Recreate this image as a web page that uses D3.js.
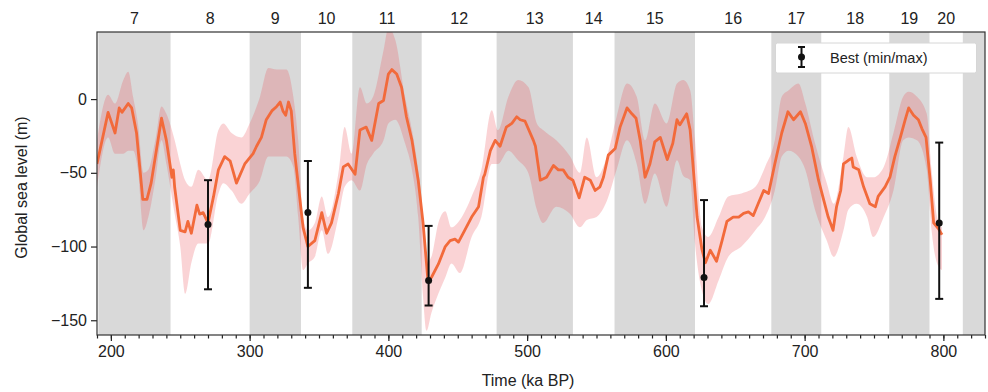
<!DOCTYPE html>
<html><head><meta charset="utf-8">
<script src="https://cdn.jsdelivr.net/npm/d3@7"></script>
<style>
body{margin:0;background:#fff;}
svg{display:block;font-family:"Liberation Sans",Arial,Helvetica,sans-serif;}
</style>
</head><body><svg id="c" width="988" height="392"></svg>
<script>
// ---- data ----
const lineKa = [190,198,203,206,208,212.5,215,218.5,223,226,229,236.5,240,244,245,246,250,253.5,255.5,258,262,264,266.5,270,274,277.5,282,286,290.5,296.5,302.5,305,308.5,312,316,319.5,322,324,326,328,330,332.5,336,338.5,342,347,352,355.5,359,364,367.5,371,376,379.5,384,388,393,396.5,400,402.5,406,409.5,413,417,421.5,425,428.5,431,436,441,444.5,448,450.5,455,460,465,468.5,469.5,473.5,477,480.5,485,489,492.5,495,498.5,504.5,506,509.5,514,519,522.5,526,529.5,533,537.5,541.5,545.5,549,552.5,555,558.5,563.5,567,572,575.5,578.5,581.5,585,588.5,592,596,598,601,605,608,610,615,617.5,620,622.5,626,628.5,632,636.5,640.5,644,648.5,652.5,656,659.5,663,666.5,670.5,674,678.5,683.5,688,692,697,700.5,705,710,715,717,720.5,723,726,728,731.5,734,735,739,742.5,747,751,753,758,761.5,765,769,772.5,775,778.5,782,784.5,787.5,790.5,793,796.5,799];
const lineVal = [-44,-9,-23,-6,-9,-3,-6,-23,-68,-68,-57,-13,-28,-53,-48,-60,-89,-90,-83,-91,-72,-78,-77,-84,-66,-48,-39,-42,-57,-44,-37,-32,-26,-14,-8,-5,-2,-8,-11,-2,-8,-37,-66,-87,-100,-96,-77,-91,-84,-64,-46,-44,-51,-21,-19,-28,-3,-1,17,20,17,8,-12,-28,-55,-84,-123,-121,-112,-100,-96,-95,-97,-89,-80,-73,-53,-51,-35,-28,-32,-19,-16.5,-12,-14,-15,-28,-32,-55,-53,-45,-48,-48,-53,-55,-67,-53,-55,-62,-59.5,-53,-38,-33.5,-19,-6,-10,-13,-28,-53,-44,-29,-26,-32,-41,-30,-14,-17.5,-10,-21,-50,-80,-102,-111,-102.5,-110,-96,-83,-80,-80,-77.5,-76.5,-79,-71,-62,-64,-44,-23,-8.6,-14,-8.6,-16.5,-32,-55,-73,-80,-89,-73,-62,-44,-41.5,-40,-46,-48,-59.5,-71,-73,-66,-59.5,-53,-39,-26,-14,-6,-11,-14,-20,-26,-55,-84,-88,-92];

const bandKa = [190,198,203,209,212.5,216,219.5,223.5,227,232,236.5,240,246,250,253.5,258,263,270,277.5,281,287,294,300,307.5,313.5,319.5,326.5,331.5,335,338.5,342,347,352,356.5,364,368.5,373.5,379.5,384.5,389,396.5,400,405,412,417,421.5,425,427.5,431,436,441,445.5,451.5,460,467,474.5,479,486.5,493.5,501,507,511.5,521,531,538,543,550,557.5,564.5,572,579,585,592,600.5,608,612.5,617.5,621,626,630.5,638,645,654.5,664.5,671.5,678.5,683.5,688.5,695.5,700.5,707.5,716,721,728,731.5,737.5,745,749.5,757,764,771,775,781,788,791.5,795.5,799];
const bandHi = [-28,3,-3,13,18.5,1.6,-16.5,-50,-48,-28,-5,-10,-28,-44,-55,-59.5,-48,-55,-21,-16.5,-23,-26,-16.5,1.6,21,20,20,1.6,-28,-80,-89,-84,-66,-80,-50,-19,-37,8,-3,1.6,33,48,40,1.6,-21,-48,-80,-111,-107,-84,-76,-87,-82,-66,-48,-7.5,-21,1.6,13,8,-16.5,-21,-28,-39,-50,-26,-53,-39,-12,10.6,1.6,-28,-3,-16.5,10.6,13,6,-28,-87,-93.5,-80,-66,-64,-59.5,-46,-28,1.6,6,10.6,-3,-30,-57,-71,-39,-19,-39,-53,-53,-46,-23,1.6,5,1.6,-10,-48,-80,-87];
const bandLo = [-60,-26,-37,-37,-35,-35,-48,-89,-80,-55,-28,-44,-78,-100,-132,-111,-98,-98,-64,-57,-62,-71,-64,-55,-39,-39,-39,-46,-80,-116,-111.5,-107,-89,-105,-80,-59.5,-55,-62,-44,-37,-28,-16.5,-14,-30,-48,-80,-134,-157,-145,-132,-121,-111.5,-118,-93.5,-80,-44,-44,-35,-41.5,-50.5,-75,-84,-73,-78,-87,-82,-80,-69,-48,-28,-44,-71,-50.5,-73,-41.5,-52,-55,-98,-130,-139,-123,-107,-100,-89,-80,-62,-39,-35,-39,-48,-75,-96,-107,-89,-75,-71,-80,-93.5,-80,-62,-28,-26,-28,-48,-89,-111.5,-116];

const errKa   = [270, 342, 429, 627.5, 797];
const errBest = [-85, -77, -123, -121, -84];
const errMin  = [-129, -128, -140, -140.5, -135.5];
const errMax  = [-55, -42, -86, -68.5, -29.5];

const stageBounds = [191,243,300,337,374,424,478,533,563,621,676,712,761,790,814,866];
const stageNums   = [7,8,9,10,11,12,13,14,15,16,17,18,19,20,21];
const stageLabels = ["7","8","9","10","11","12","13","14","15","16","17","18","19","20"];

const xDomain = [190, 830];
const yDomain = [-160, 45.5];
const xTicks = [200,300,400,500,600,700,800];
const yTicks = [-150,-100,-50,0];

// ---- layout ----
const W = 988, H = 392;
const m = {l:97, r:3, t:32, b:57};
const FS = 16;
const svg = d3.select("#c");
const x = d3.scaleLinear().domain(xDomain).range([m.l, W - m.r]);
const y = d3.scaleLinear().domain(yDomain).range([H - m.b, m.t]);

svg.append("defs").append("clipPath").attr("id","clip")
  .append("rect").attr("x", m.l).attr("y", m.t)
  .attr("width", W - m.l - m.r).attr("height", H - m.t - m.b);

const plot = svg.append("g").attr("clip-path","url(#clip)");

// stage shading (odd stages)
const stages = stageNums.map((n,i)=>({n, a:stageBounds[i], b:stageBounds[i+1]}));
plot.selectAll("rect.stage").data(stages.filter(d=>d.n%2===1)).join("rect")
  .attr("class","stage")
  .attr("x", d=>x(Math.max(d.a,xDomain[0])))
  .attr("width", d=>x(Math.min(d.b,xDomain[1])) - x(Math.max(d.a,xDomain[0])))
  .attr("y", m.t).attr("height", H - m.t - m.b)
  .attr("fill","#d9d9d9");

// uncertainty band
const band = bandKa.map((k,i)=>({k, hi:bandHi[i], lo:bandLo[i]}));
plot.append("path").datum(band)
  .attr("d", d3.area().x(d=>x(d.k)).y0(d=>y(d.lo)).y1(d=>y(d.hi)).curve(d3.curveMonotoneX))
  .attr("fill","rgba(236,70,80,0.24)");

// line
const line = lineKa.map((k,i)=>({k, v:lineVal[i]}));
plot.append("path").datum(line)
  .attr("d", d3.line().x(d=>x(d.k)).y(d=>y(d.v)))
  .attr("fill","none").attr("stroke","#f26a3b").attr("stroke-width",2.8)
  .attr("stroke-linejoin","round");

// error bars
const errs = errKa.map((k,i)=>({k, best:errBest[i], mn:errMin[i], mx:errMax[i]}));
const eg = plot.selectAll("g.err").data(errs).join("g").attr("class","err");
eg.append("line").attr("x1",d=>x(d.k)).attr("x2",d=>x(d.k))
  .attr("y1",d=>y(d.mn)).attr("y2",d=>y(d.mx)).attr("stroke","#111").attr("stroke-width",2);
eg.append("line").attr("x1",d=>x(d.k)-4).attr("x2",d=>x(d.k)+4)
  .attr("y1",d=>y(d.mn)).attr("y2",d=>y(d.mn)).attr("stroke","#111").attr("stroke-width",2);
eg.append("line").attr("x1",d=>x(d.k)-4).attr("x2",d=>x(d.k)+4)
  .attr("y1",d=>y(d.mx)).attr("y2",d=>y(d.mx)).attr("stroke","#111").attr("stroke-width",2);
eg.append("circle").attr("cx",d=>x(d.k)).attr("cy",d=>y(d.best)).attr("r",3.5).attr("fill","#111");

// axes
const xAxis = d3.axisBottom(x).tickValues(xTicks).tickSize(6).tickPadding(5).tickFormat(d3.format("d"));
const xMinor = d3.axisBottom(x).tickValues(d3.range(190, 831, 10)).tickSize(3.5).tickFormat("");
const yAxis = d3.axisLeft(y).tickValues(yTicks).tickSize(6).tickPadding(4).tickFormat(d=>d<0?"\u2212"+Math.abs(d):d);

const gxm = svg.append("g").attr("transform",`translate(0,${H-m.b})`).call(xMinor);
const gx = svg.append("g").attr("transform",`translate(0,${H-m.b})`).call(xAxis);
const gy = svg.append("g").attr("transform",`translate(${m.l},0)`).call(yAxis);
[gx,gxm,gy].forEach(g=>{
  g.select(".domain").remove();
  g.selectAll("line").attr("stroke","#222").attr("stroke-width",1.2);
  g.selectAll("text").attr("font-size",FS).attr("fill","#222")
    .attr("font-family",'"Liberation Sans",Arial,sans-serif');
});

// frame
svg.append("rect").attr("x",m.l).attr("y",m.t)
  .attr("width",W-m.l-m.r).attr("height",H-m.t-m.b)
  .attr("fill","none").attr("stroke","#333").attr("stroke-width",1.2);

// stage labels on top
svg.selectAll("text.stl").data(stages.slice(0, stageLabels.length)).join("text")
  .attr("class","stl")
  .attr("x", d=>(x(Math.max(d.a,xDomain[0])) + x(Math.min(d.b,xDomain[1])))/2)
  .attr("y", 24)
  .attr("text-anchor","middle").attr("font-size",FS).attr("fill","#222")
  .text((d,i)=>stageLabels[i]);

// axis titles
svg.append("text").attr("x", 528).attr("y", 386)
  .attr("text-anchor","middle").attr("font-size",FS).attr("fill","#222").text("Time (ka BP)");
svg.append("text").attr("transform",`translate(27,${(m.t + H - m.b)/2 + 4}) rotate(-90)`)
  .attr("text-anchor","middle").attr("font-size",FS).attr("fill","#222").text("Global sea level (m)");

// legend
const lg = svg.append("g");
lg.append("rect").attr("x",775.5).attr("y",43).attr("width",201).attr("height",30).attr("rx",2)
  .attr("fill","#fff").attr("stroke","#d6d6d6").attr("stroke-width",1);
const lx = 801.5;
lg.append("line").attr("x1",lx).attr("x2",lx).attr("y1",47).attr("y2",67).attr("stroke","#111").attr("stroke-width",2);
lg.append("line").attr("x1",lx-3.5).attr("x2",lx+3.5).attr("y1",47).attr("y2",47).attr("stroke","#111").attr("stroke-width",2);
lg.append("line").attr("x1",lx-3.5).attr("x2",lx+3.5).attr("y1",67).attr("y2",67).attr("stroke","#111").attr("stroke-width",2);
lg.append("circle").attr("cx",lx).attr("cy",57).attr("r",3.5).attr("fill","#111");
lg.append("text").attr("x",830).attr("y",62.5).attr("font-size",14.5).attr("fill","#222").text("Best (min/max)");
</script>
</body></html>
